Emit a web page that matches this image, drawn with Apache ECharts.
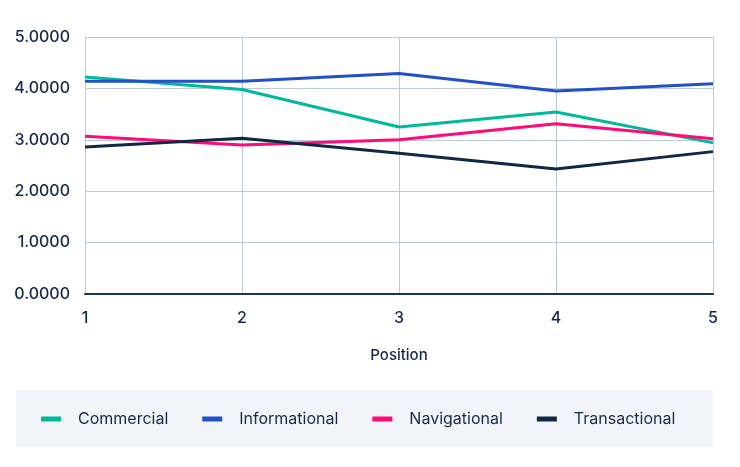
<!DOCTYPE html>
<html><head><meta charset="utf-8">
<script src="https://cdn.jsdelivr.net/npm/echarts@6/dist/echarts.min.js"></script>
<style>html,body{margin:0;padding:0;background:#fff}#c{width:740px;height:467px}</style>
</head><body><div id="c"></div>
<script>
var positions = ['1','2','3','4','5'];
var commercial = [4.22, 3.98, 3.25, 3.54, 2.94];
var informational = [4.14, 4.14, 4.29, 3.95, 4.09];
var navigational = [3.07, 2.90, 3.00, 3.31, 3.02];
var transactional = [2.86, 3.03, 2.74, 2.43, 2.77];
var seriesNames = ['Commercial','Informational','Navigational','Transactional'];
var seriesColors = ['#00b89c','#2150c8','#ff0a78','#0f2845'];
var seriesData = [commercial, informational, navigational, transactional];

var chart = echarts.init(document.getElementById('c'), null, {renderer:'canvas'});
var font = 'Inter, "Noto Sans", sans-serif';
var textColor = '#17294a';
chart.setOption({
  animation:false,
  backgroundColor:'#ffffff',
  textStyle:{fontFamily:font},
  graphic:[{type:'rect', shape:{x:16,y:390,width:697,height:57}, style:{fill:'#f1f4f8'}, z:-1}],
  grid:{left:85, right:27, top:37, bottom:173},
  legend:{
    left:41, top:411, padding:0, itemWidth:20, itemHeight:5, itemGap:34,
    icon:'rect',
    data:seriesNames,
    textStyle:{fontFamily:font, fontSize:16, color:textColor, padding:[0,0,0,12]}
  },
  xAxis:{
    type:'category', data:positions, boundaryGap:false,
    name:'Position', nameLocation:'middle', nameGap:54,
    nameTextStyle:{fontFamily:font, fontSize:15, fontWeight:500, color:textColor},
    axisLine:{show:true, lineStyle:{color:'#17345a', width:2}},
    axisTick:{show:false},
    axisLabel:{fontFamily:font, fontSize:16, fontWeight:500, color:textColor, margin:16, showMaxLabel:true, showMinLabel:true},
    splitLine:{show:true, lineStyle:{color:'#bccad8', width:1}}
  },
  yAxis:{
    type:'value', min:0, max:5, interval:1,
    axisLine:{show:false}, axisTick:{show:false},
    axisLabel:{fontFamily:font, fontSize:16, fontWeight:500, color:textColor, margin:15,
      formatter:function(v){return v.toFixed(4);}},
    splitLine:{show:true, lineStyle:{color:'#bccad8', width:1}}
  },
  series: seriesNames.map(function(n,i){
    return {name:n, type:'line', data:seriesData[i], symbol:'none', smooth:false,
      lineStyle:{width:3, color:seriesColors[i]}, itemStyle:{color:seriesColors[i]}};
  })
});
</script></body></html>
